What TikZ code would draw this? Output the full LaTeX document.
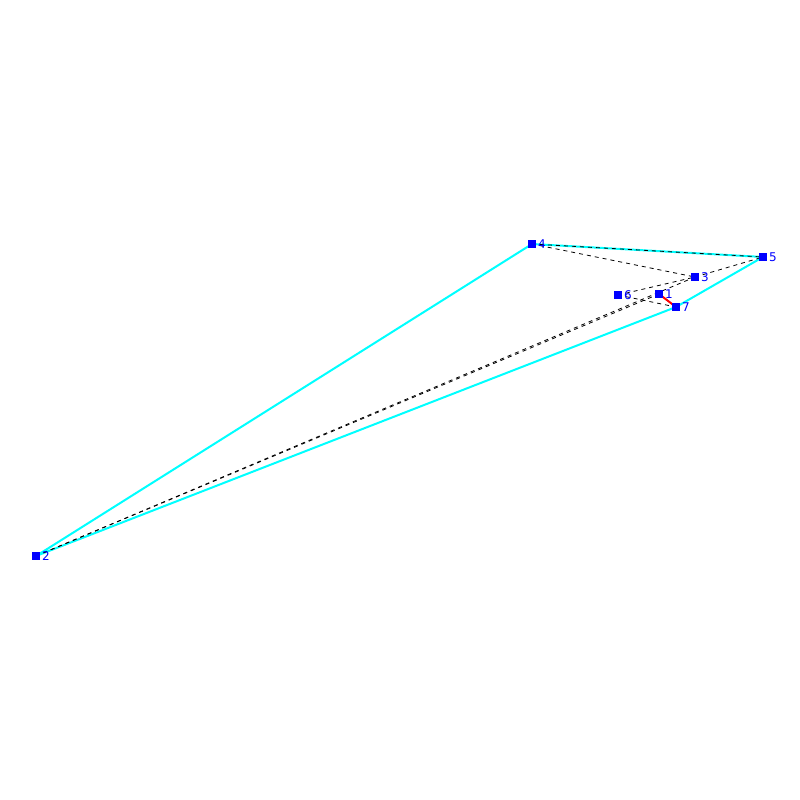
\documentclass[tikz,border=0pt]{standalone}
\usepackage{fontspec}
\setsansfont{DejaVu Sans}
\usetikzlibrary{backgrounds}
\tikzset{every picture/.style={line width=0.75pt}}
\tikzset{
  vtx/.style={fill={rgb,255:red,0;green,0;blue,255},draw=none,minimum size=6pt,inner sep=0pt,
    label={[inner sep=0.8pt,text={rgb,255:red,0;green,0;blue,255},font=\sffamily\fontsize{9}{10}\selectfont]right:#1}},
  hull/.style={color={rgb,255:red,0;green,255;blue,255},line width=1.5pt},
  diag/.style={black,dashed,line width=0.6pt},
  pick/.style={color={rgb,255:red,255;green,0;blue,0},line width=1.5pt}
}
\begin{document}
\begin{tikzpicture}[x=0.75pt,y=0.75pt,yscale=-1,xscale=1]
\path[use as bounding box] (0,0) rectangle (800,800);

% Points
\node[vtx=1] (n1) at (659,294) {};
\node[vtx=2] (n2) at (36,556) {};
\node[vtx=3] (n3) at (695,277) {};
\node[vtx=4] (n4) at (532,244) {};
\node[vtx=5] (n5) at (763,257) {};
\node[vtx=6] (n6) at (618,295) {};
\node[vtx=7] (n7) at (676,307) {};

\begin{scope}[on background layer]
% Hull
\draw[hull] (n2.center) -- (n4.center) -- (n5.center) -- (n7.center) -- cycle;

% Dashed edges
\draw[diag] (n4.center) -- (n5.center);
\draw[diag] (n4.center) -- (n3.center);
\draw[diag] (n6.center) -- (n3.center);
\draw[diag] (n3.center) -- (n5.center);
\draw[diag] (n6.center) -- (n7.center);
\draw[diag] (n2.center) -- (n1.center);
\draw[diag] (n2.center) -- (n3.center);

% Red segment
\draw[pick] (n1.center) -- (n7.center);
\end{scope}
\end{tikzpicture}
\end{document}
